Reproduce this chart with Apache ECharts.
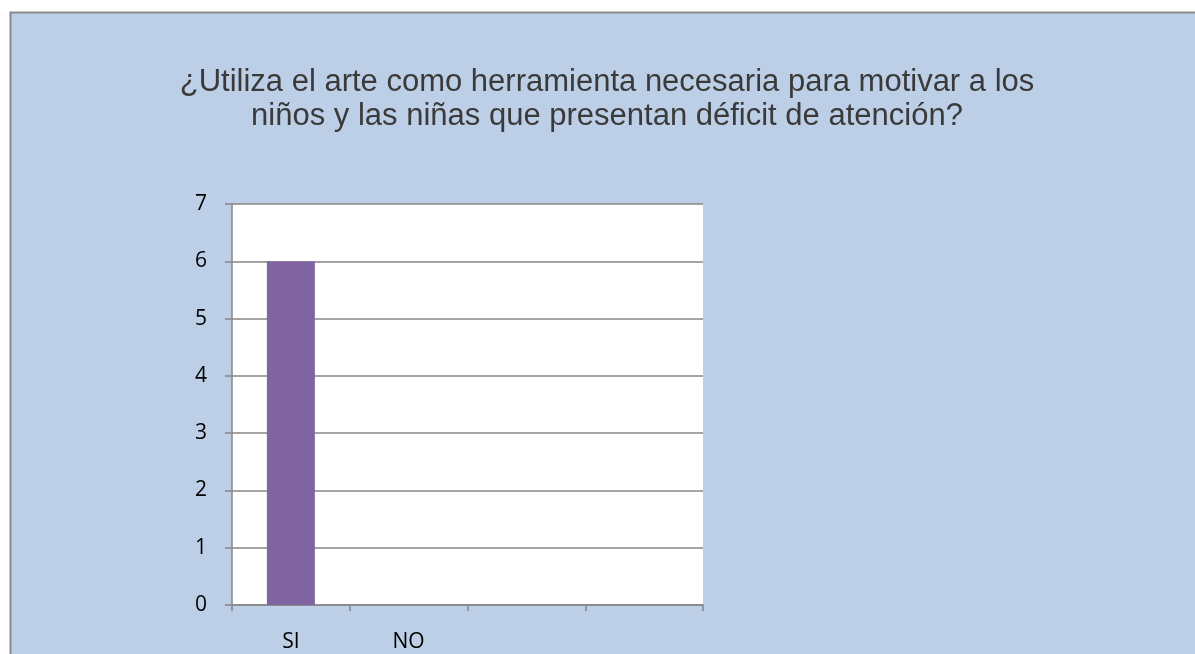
<!DOCTYPE html>
<html>
<head>
<meta charset="utf-8">
<script src="https://cdn.jsdelivr.net/npm/echarts@6/dist/echarts.min.js"></script>
<style>
html,body{margin:0;padding:0;background:#ffffff;}
#chart{width:1195px;height:654px;}
</style>
</head>
<body>
<div id="chart"></div>
<script>
const titleText = "¿Utiliza el arte como herramienta necesaria para motivar a los\nniños y las niñas que presentan déficit de atención?";
const categories = ["SI", "NO", "", ""];
const values = [6, 0, null, null];
const yTicks = { min: 0, max: 7, interval: 1 };

const chart = echarts.init(document.getElementById('chart'), null, { renderer: 'canvas' });
const gridGrey = '#868686';
chart.setOption({
  animation: false,
  graphic: [{
    type: 'rect', z: -10, silent: true,
    shape: { x: 10.5, y: 12.5, width: 1200, height: 700 },
    style: { fill: '#BCCFE6', stroke: '#898989', lineWidth: 2 }
  }],
  title: {
    text: titleText,
    left: 602, top: 60, textAlign: 'center',
    textStyle: { fontFamily: 'Liberation Sans', fontSize: 31, fontWeight: 'normal', color: '#3a3a3a', lineHeight: 34 }
  },
  grid: { left: 232, right: 492, top: 204, bottom: 49, backgroundColor: '#ffffff', show: true, borderWidth: 0 },
  xAxis: {
    type: 'category',
    data: categories,
    axisLine: { lineStyle: { color: gridGrey, width: 1.5 } },
    axisTick: { show: true, length: 6, lineStyle: { color: gridGrey, width: 1.5 } },
    axisLabel: { color: '#000', fontFamily: 'Open Sans', fontSize: 21, margin: 27 }
  },
  yAxis: {
    type: 'value',
    min: yTicks.min, max: yTicks.max, interval: yTicks.interval,
    axisLine: { show: true, lineStyle: { color: gridGrey, width: 1.5 } },
    axisTick: { show: true, length: 7, lineStyle: { color: gridGrey, width: 1.5 } },
    splitLine: { lineStyle: { color: gridGrey, width: 1.5 } },
    axisLabel: { color: '#000', fontFamily: 'Open Sans', fontSize: 21, margin: 25 }
  },
  series: [{
    type: 'bar',
    data: values,
    barWidth: 48,
    itemStyle: { color: '#8064A2' }
  }]
});
</script>
</body>
</html>
